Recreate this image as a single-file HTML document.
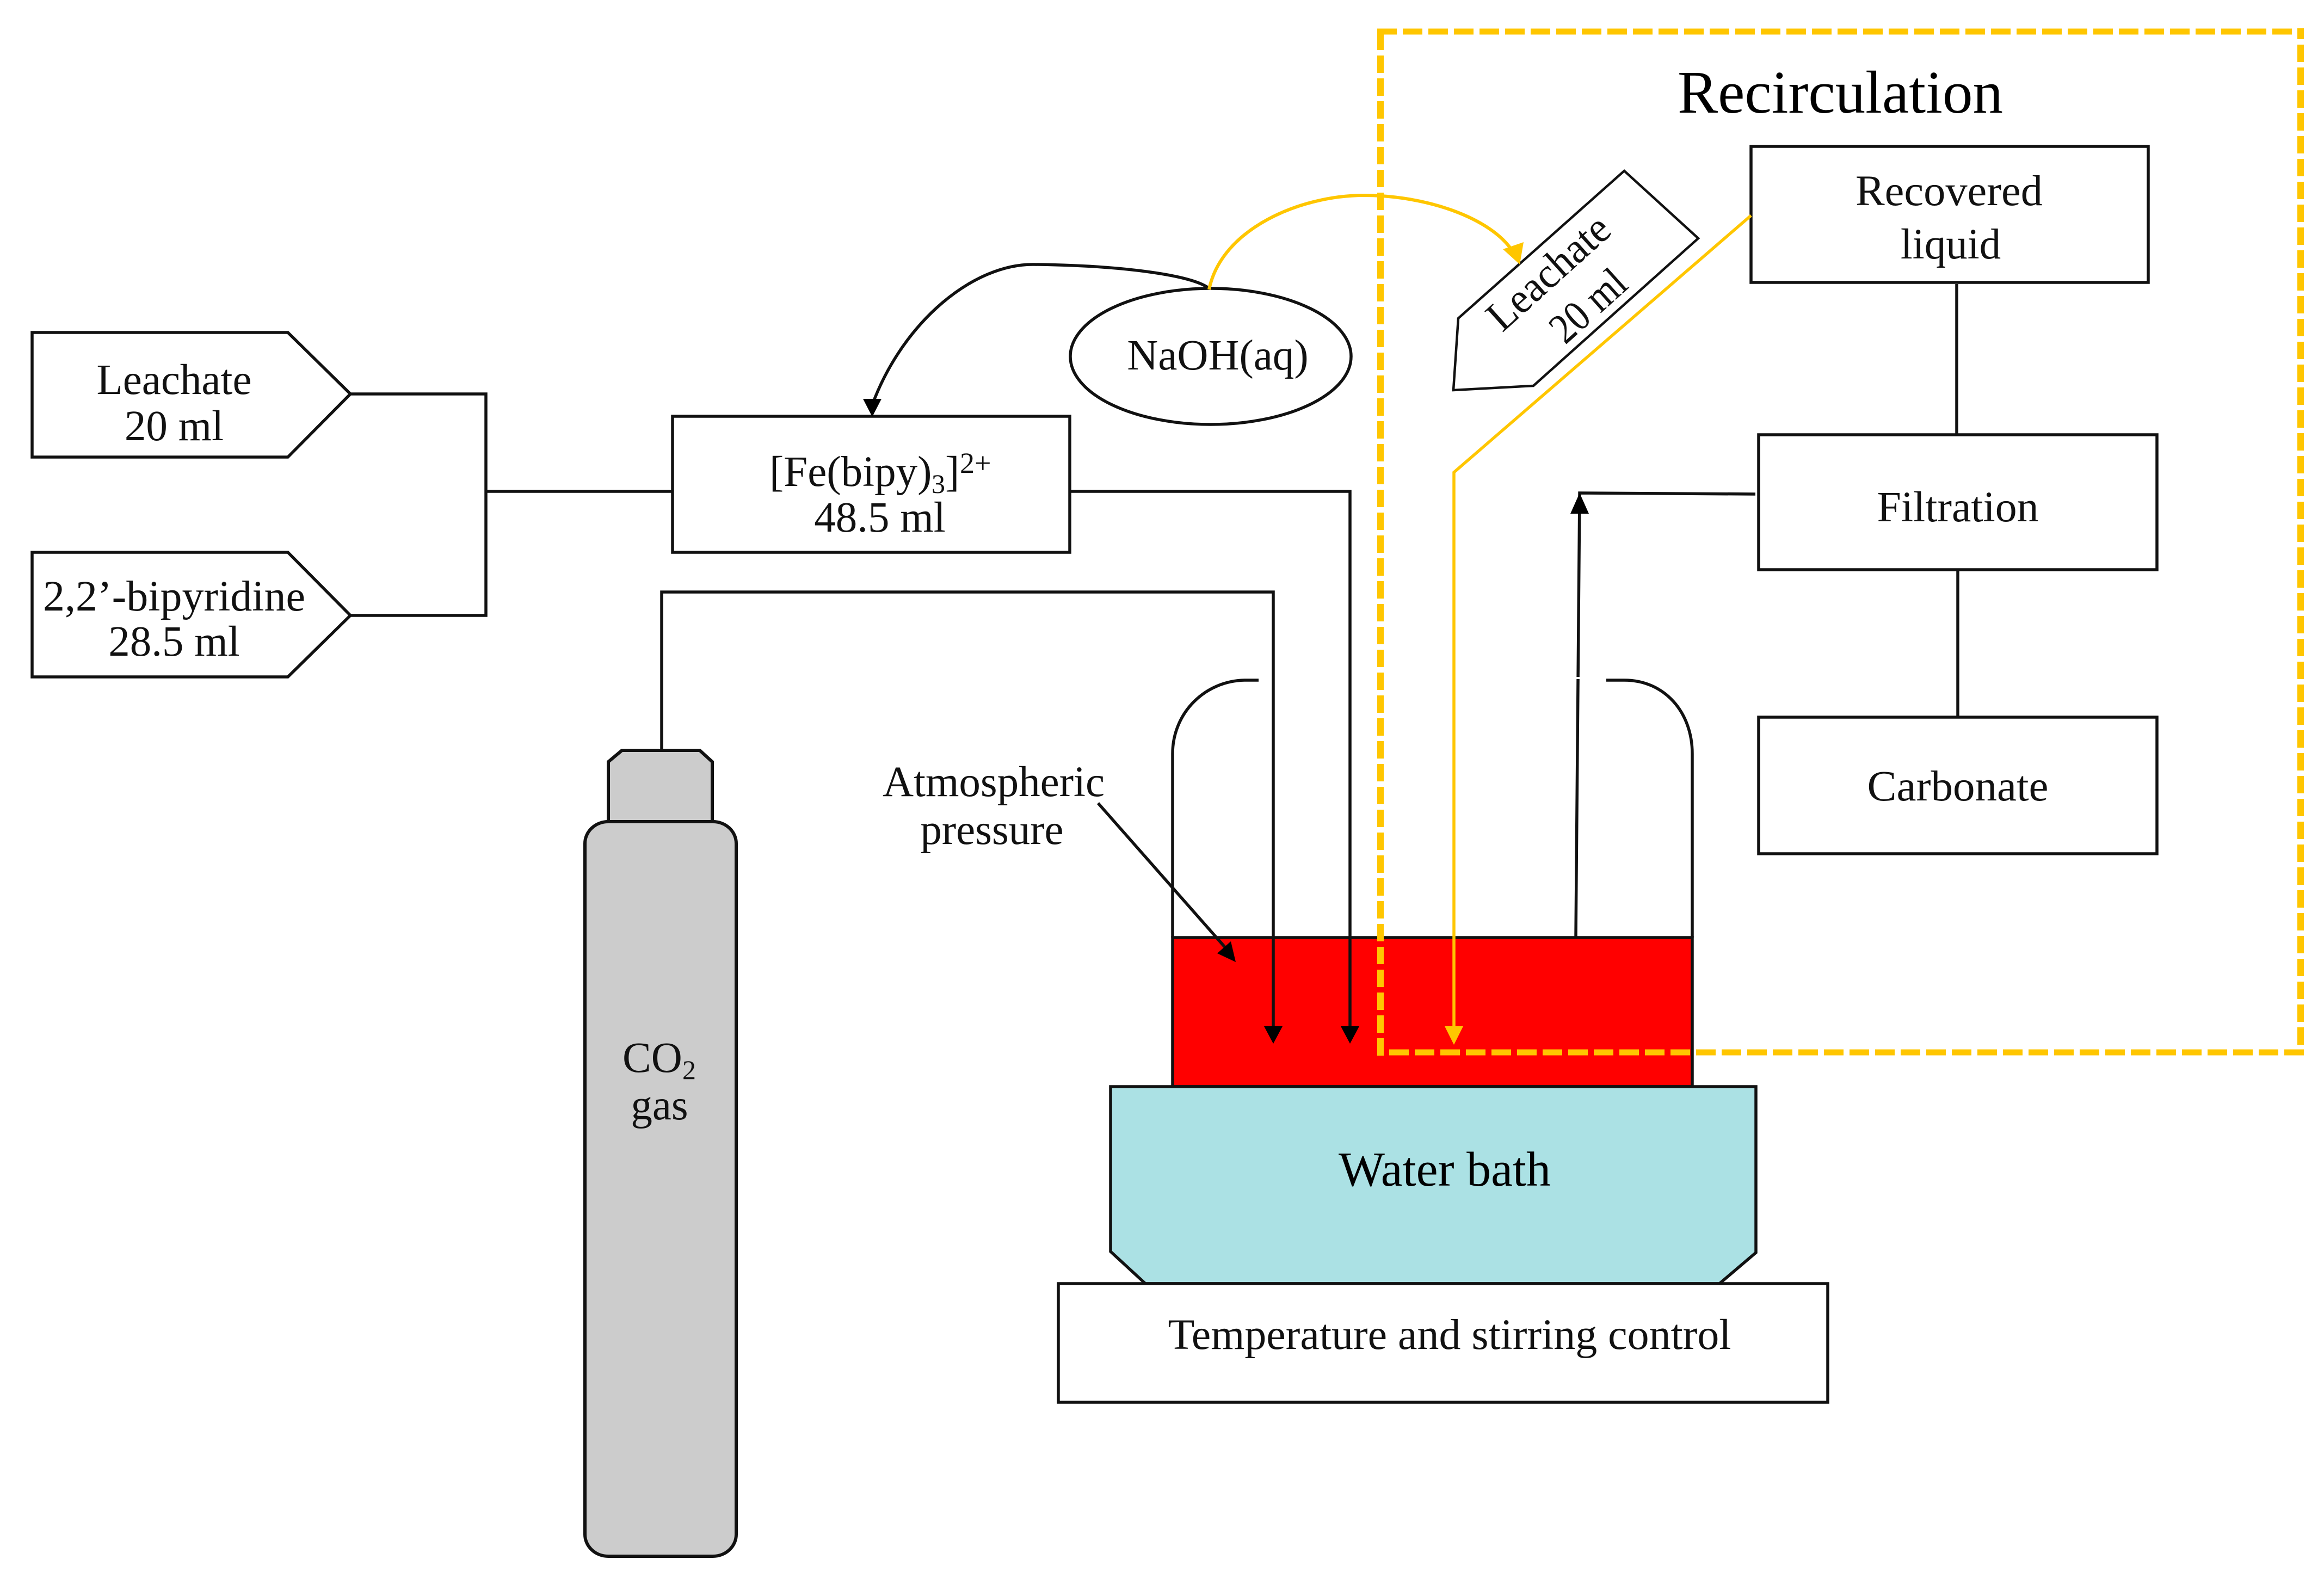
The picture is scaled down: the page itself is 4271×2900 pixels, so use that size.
<!DOCTYPE html>
<html>
<head>
<meta charset="utf-8">
<style>
html,body{margin:0;padding:0;background:#fff;}
svg{display:block;}
text{font-family:"Liberation Serif",serif;fill:#111;font-size:79px;}
</style>
</head>
<body>
<svg width="4271" height="2900" viewBox="0 0 4271 2900" xmlns="http://www.w3.org/2000/svg">
<rect width="4271" height="2900" fill="#fff"/>
<g fill="none" stroke="#111" stroke-width="5.5">
  <!-- flask -->
  <path d="M2155 1723V1385C2155 1310 2215 1250 2290 1250H2313"/>
  <path d="M3110 1723V1385C3110 1310 3060 1250 2985 1250H2952"/>
  <!-- red liquid -->
  <rect x="2155" y="1723" width="955" height="274" fill="#ff0000"/>
  <!-- water bath -->
  <path d="M2041 1997H3227V2302L3160 2359H2105L2041 2300Z" fill="#abe1e4"/>
  <!-- temperature box -->
  <rect x="1945" y="2359" width="1414" height="218" fill="#fff"/>
  <!-- cylinder -->
  <path d="M1118 1510V1400L1143 1379H1286L1309 1400V1510Z" fill="#cccccc" stroke-width="6"/>
  <rect x="1075" y="1510" width="278" height="1350" rx="43" ry="40" fill="#cccccc" stroke-width="6"/>
  <!-- input pentagons -->
  <path d="M59 611H529L644 724L529 840H59Z" fill="#fff"/>
  <path d="M59 1015H529L644 1131L529 1244H59Z" fill="#fff"/>
  <!-- input lines -->
  <path d="M644 724H893V1131H644"/>
  <path d="M893 903H1236"/>
  <!-- Fe box -->
  <rect x="1236" y="765" width="730" height="250" fill="#fff"/>
  <path d="M1966 903H2481V1890"/>
  <!-- CO2 line -->
  <path d="M1216 1378V1088H2340V1890"/>
  <!-- ellipse -->
  <ellipse cx="2225" cy="655" rx="258" ry="125" fill="#fff"/>
  <!-- black curve NaOH to Fe box -->
  <path d="M2222 530C2190 505 2060 488 1901 486C1790 484 1660 590 1603 744"/>
  <!-- tilted pentagon -->
  <path d="M2985 314L3121 438L2818 709L2671 717L2680 585Z" fill="#fff" stroke-width="4.5"/>
  <!-- right boxes -->
  <rect x="3218" y="269" width="730" height="250" fill="#fff"/>
  <rect x="3232" y="799" width="732" height="248" fill="#fff"/>
  <rect x="3232" y="1318" width="732" height="251" fill="#fff"/>
  <path d="M3596 522V799"/>
  <path d="M3598 1047V1318"/>
  <!-- filtration return -->
  <path d="M3226 908L2903 906L2896 1722"/>
  <!-- atmospheric arrow -->
  <path d="M2018 1476L2255 1745"/>
</g>
<rect x="2888" y="1244" width="16" height="4" fill="#fff"/>
<!-- arrowheads black -->
<g fill="#000">
  <path d="M2340 1918L2323 1886H2357Z"/>
  <path d="M2481 1918L2464 1886H2498Z"/>
  <path d="M2903 906L2886 944H2920Z"/>
  <path d="M1603 766L1586 733H1620Z"/>
  <path d="M2271 1768L2237 1752L2262 1730Z"/>
</g>
<!-- yellow -->
<g fill="none" stroke="#ffc600">
  <path d="M4234 1934H2537" stroke-width="11" stroke-dasharray="36 11"/>
  <path d="M2531 58H4234" stroke-width="11" stroke-dasharray="36 11"/>
  <path d="M4228 1920V52" stroke-width="12" stroke-dasharray="32 10"/>
  <path d="M2537 1940V52" stroke-width="12" stroke-dasharray="32 10"/>
  <path d="M3218 396L2672 868V1890" stroke-width="5.5"/>
  <path d="M2222 532C2245 420 2390 359 2507 359C2620 359 2740 400 2780 462" stroke-width="6"/>
</g>
<g fill="#ffc600">
  <path d="M2672 1920L2655 1886H2689Z"/>
  <path d="M2793 486L2762 458L2800 445Z"/>
</g>
<!-- labels -->
<text x="320" y="724" text-anchor="middle">Leachate</text>
<text x="320" y="809" text-anchor="middle">20 ml</text>
<text x="320" y="1122" text-anchor="middle" textLength="482" lengthAdjust="spacingAndGlyphs">2,2’-bipyridine</text>
<text x="320" y="1205" text-anchor="middle">28.5 ml</text>
<text x="1414" y="893">[Fe(bipy)</text>
<text x="1712" y="906" style="font-size:50px">3</text>
<text x="1737" y="893">]</text>
<text x="1764" y="869" style="font-size:54px">2+</text>
<text x="1617" y="977" text-anchor="middle">48.5 ml</text>
<text x="2238" y="679" text-anchor="middle">NaOH(aq)</text>
<text x="3382" y="207" text-anchor="middle" style="font-size:111px;fill:#000">Recirculation</text>
<text x="3582" y="377" text-anchor="middle" textLength="344" lengthAdjust="spacingAndGlyphs">Recovered</text>
<text x="3585" y="475" text-anchor="middle">liquid</text>
<text x="3598" y="958" text-anchor="middle" textLength="297" lengthAdjust="spacingAndGlyphs">Filtration</text>
<text x="3598" y="1471" text-anchor="middle" textLength="333" lengthAdjust="spacingAndGlyphs">Carbonate</text>
<text x="1826" y="1463" text-anchor="middle">Atmospheric</text>
<text x="1823" y="1551" text-anchor="middle">pressure</text>
<text x="1144" y="1970">CO</text>
<text x="1254" y="1983" style="font-size:50px">2</text>
<text x="1212" y="2057" text-anchor="middle">gas</text>
<text x="2655" y="2179" text-anchor="middle" style="font-size:90px;fill:#000" textLength="390" lengthAdjust="spacingAndGlyphs">Water bath</text>
<text x="2664" y="2479" text-anchor="middle" textLength="1035" lengthAdjust="spacingAndGlyphs">Temperature and stirring control</text>
<text transform="translate(2863 520) rotate(-42)" text-anchor="middle" textLength="275" lengthAdjust="spacingAndGlyphs">Leachate</text>
<text transform="translate(2936 581) rotate(-42)" text-anchor="middle" textLength="160" lengthAdjust="spacingAndGlyphs">20 ml</text>
</svg>
</body>
</html>
